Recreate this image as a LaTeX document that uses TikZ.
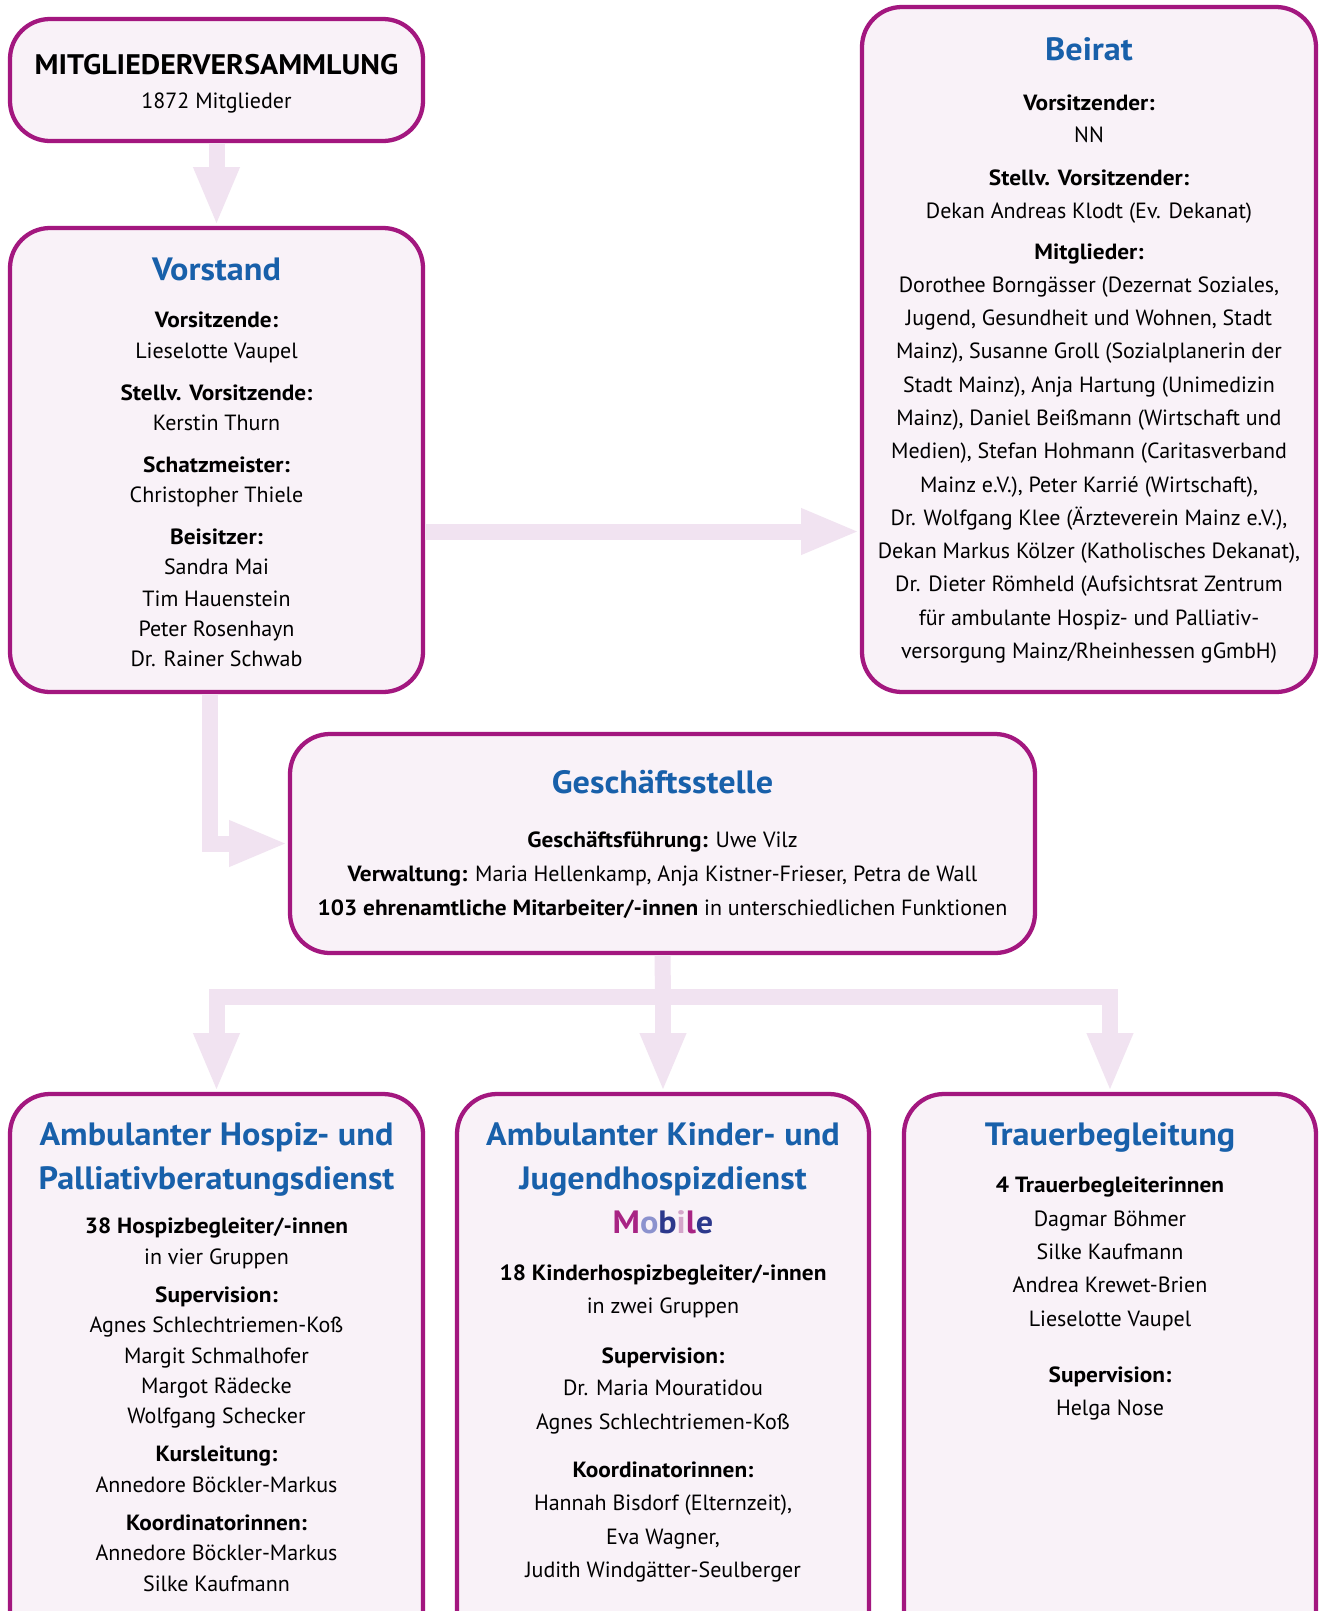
\documentclass[tikz,border=0pt]{standalone}
\usepackage{fontspec}
\setmainfont{PT Sans}[BoldFeatures={FakeStretch=1.06}]
\usetikzlibrary{arrows.meta,positioning,fit}
\definecolor{rahmen}{RGB}{163,23,127}
\definecolor{fuellung}{RGB}{249,242,248}
\definecolor{pfeil}{RGB}{241,227,241}
\definecolor{titelblau}{RGB}{24,96,170}
\definecolor{mobM}{RGB}{168,36,132}
\definecolor{mobO}{RGB}{140,146,206}
\definecolor{mobB}{RGB}{44,56,140}
\definecolor{mobI}{RGB}{212,166,202}
\tikzset{
	kasten/.style={draw=rahmen, line width=3.2pt, fill=fuellung, rounded corners=30pt, inner sep=0pt},
	zeile/.style={anchor=base, inner sep=0pt, yshift=-6pt, font=\fontsize{16.5}{20}\selectfont},
	titel/.style={anchor=base, inner sep=0pt, yshift=-9.3pt, text=titelblau, font=\fontsize{24.2}{30}\selectfont\bfseries},
	fettlinie/.style={draw=pfeil, line width=12pt},
	fettpfeil/.style={fettlinie, -{Triangle[length=44pt,width=31.5pt]}},
}
\begin{document}
\begin{tikzpicture}[x=0.75pt,y=-0.75pt]
	\fill[white] (0,0) rectangle (1322,1611);
	\useasboundingbox (0,0) rectangle (1322,1611);
	% Kaesten
	\node[kasten, fit={(10,19) (423,141)}] (mv) {};
	\node[kasten, fit={(10,228) (423,692)}] (vs) {};
	\node[kasten, fit={(862,7) (1316,692)}] (br) {};
	\node[kasten, fit={(290,734) (1035,953)}] (gs) {};
	\node[kasten, fit={(10,1094) (423,1660)}] (hd) {};
	\node[kasten, fit={(457,1094) (869,1660)}] (kd) {};
	\node[kasten, fit={(904,1094) (1316,1660)}] (tb) {};
	% Mitgliederversammlung
	\node[anchor=base, inner sep=0pt, yshift=-8pt, font=\fontsize{21.2}{26}\selectfont\bfseries] (mv-titel) at (216.5,64) {MITGLIEDERVERSAMMLUNG};
	\node[zeile] (mv-1) at (216.5,100) {1872 Mitglieder};
	% Vorstand
	\node[titel] (vs-titel) at (216.5,268) {Vorstand};
	\foreach \y/\txt [count=\i] in {319/{\textbf{Vorsitzende:}}, 350/{Lieselotte Vaupel},
		392/{\textbf{Stellv. Vorsitzende:}}, 422/{Kerstin Thurn},
		464/{\textbf{Schatzmeister:}}, 494/{Christopher Thiele},
		536/{\textbf{Beisitzer:}}, 566/{Sandra Mai}, 598/{Tim Hauenstein},
		628/{Peter Rosenhayn}, 658/{Dr. Rainer Schwab}}
		\node[zeile] (vs-\i) at (216.5,\y) {\txt};
	% Beirat
	\node[titel] (br-titel) at (1089,48) {Beirat};
	\foreach \y/\txt [count=\i] in {102/{\textbf{Vorsitzender:}}, 134/{NN},
		177/{\textbf{Stellv. Vorsitzender:}}, 210/{Dekan Andreas Klodt (Ev. Dekanat)},
		251/{\textbf{Mitglieder:}},
		284/{Dorothee Borngässer (Dezernat Soziales,},
		317/{Jugend, Gesundheit und Wohnen, Stadt},
		350/{Mainz), Susanne Groll (Sozialplanerin der},
		384/{Stadt Mainz), Anja Hartung (Unimedizin},
		417/{Mainz), Daniel Beißmann (Wirtschaft und},
		450/{Medien), Stefan Hohmann (Caritasverband},
		484/{Mainz e.V.), Peter Karrié (Wirtschaft),},
		517/{Dr. Wolfgang Klee (Ärzteverein Mainz e.V.),},
		550/{Dekan Markus Kölzer (Katholisches Dekanat),},
		583/{Dr. Dieter Römheld (Aufsichtsrat Zentrum},
		617/{für ambulante Hospiz- und Palliativ-},
		650/{versorgung Mainz/Rheinhessen gGmbH)}}
		\node[zeile] (br-\i) at (1089,\y) {\txt};
	% Geschaeftsstelle
	\node[titel] (gs-titel) at (662.5,781) {Geschäftsstelle};
	\foreach \y/\txt [count=\i] in {839/{\textbf{Geschäftsführung:} Uwe Vilz},
		873/{\textbf{Verwaltung:} Maria Hellenkamp, Anja Kistner-Frieser, Petra de Wall},
		907/{\textbf{103 ehrenamtliche Mitarbeiter/-innen} in unterschiedlichen Funktionen}}
		\node[zeile] (gs-\i) at (662.5,\y) {\txt};
	% Hospiz- und Palliativberatungsdienst
	\node[titel] (hd-titel) at (216.5,1133) {Ambulanter Hospiz- und};
	\node[titel] (hd-titel2) at (216.5,1177) {Palliativberatungsdienst};
	\foreach \y/\txt [count=\i] in {1225/{\textbf{38 Hospizbegleiter/-innen}}, 1256/{in vier Gruppen},
		1294/{\textbf{Supervision:}}, 1324/{Agnes Schlechtriemen-Koß}, 1355/{Margit Schmalhofer},
		1385/{Margot Rädecke}, 1415/{Wolfgang Schecker},
		1453/{\textbf{Kursleitung:}}, 1484/{Annedore Böckler-Markus},
		1522/{\textbf{Koordinatorinnen:}}, 1552/{Annedore Böckler-Markus}, 1583/{Silke Kaufmann}}
		\node[zeile] (hd-\i) at (216.5,\y) {\txt};
	% Kinder- und Jugendhospizdienst
	\node[titel] (kd-titel) at (663,1133) {Ambulanter Kinder- und};
	\node[titel] (kd-titel2) at (663,1177) {Jugendhospizdienst};
	\node[titel] (kd-mobile) at (663,1221) {\color{mobM}M\color{mobO}o\color{mobB}b\color{mobI}i\color{mobM}l\color{mobB}e};
	\foreach \y/\txt [count=\i] in {1272/{\textbf{18 Kinderhospizbegleiter/-innen}}, 1305/{in zwei Gruppen},
		1355/{\textbf{Supervision:}}, 1387/{Dr. Maria Mouratidou}, 1421/{Agnes Schlechtriemen-Koß},
		1469/{\textbf{Koordinatorinnen:}}, 1502/{Hannah Bisdorf (Elternzeit),},
		1536/{Eva Wagner,}, 1569/{Judith Windgätter-Seulberger}}
		\node[zeile] (kd-\i) at (663,\y) {\txt};
	% Trauerbegleitung
	\node[titel] (tb-titel) at (1110,1133) {Trauerbegleitung};
	\foreach \y/\txt [count=\i] in {1184/{\textbf{4 Trauerbegleiterinnen}}, 1218/{Dagmar Böhmer},
		1251/{Silke Kaufmann}, 1284/{Andrea Krewet-Brien}, 1318/{Lieselotte Vaupel},
		1374/{\textbf{Supervision:}}, 1407/{Helga Nose}}
		\node[zeile] (tb-\i) at (1110,\y) {\txt};
	% Pfeile
	\coordinate (vbhoehe) at (0,531.5);
	\coordinate (verteiler) at (663,997);
	\draw[fettpfeil] (mv.south) -- (vs.north);
	\draw[fettpfeil] (vs.east |- vbhoehe) -- (br.west |- vbhoehe);
	\draw[fettpfeil] ([xshift=-5pt]vs.south) |- (gs.west);
	\draw[fettlinie] (gs.south) -- (verteiler);
	\draw[fettpfeil] (verteiler) -| (hd.north);
	\draw[fettpfeil] (verteiler) -| (tb.north);
	\draw[fettpfeil] (verteiler) -- (kd.north);
\end{tikzpicture}
\end{document}
